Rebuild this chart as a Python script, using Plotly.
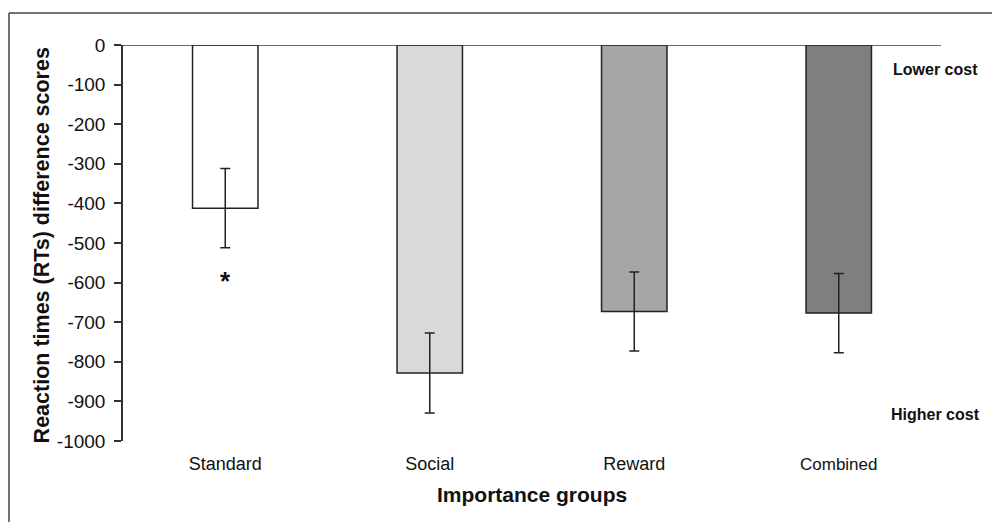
import plotly.graph_objects as go

categories = ["Standard", "Social", "Reward", "Combined"]
values = [-412, -828, -673, -677]
errors = [100, 101, 100, 100]
bar_colors = ["#ffffff", "#d9d9d9", "#a6a6a6", "#7f7f7f"]
tick_vals = list(range(-1000, 1, 100))
tick_text = [str(v) for v in tick_vals]
star_y = -591

ticktext_x = ["Standard", "Social", "Reward", "<span style='font-size:17px'>Combined</span>"]

fig = go.Figure()
fig.add_trace(go.Bar(
    x=categories, y=values,
    marker=dict(color=bar_colors, line=dict(color="#222222", width=1.5)),
    width=0.32,
    error_y=dict(type="data", array=errors, visible=True, color="#222222", thickness=1.5, width=5),
    showlegend=False,
))

font_family = "Liberation Sans, Arial, sans-serif"

fig.update_layout(
    width=992, height=522,
    margin=dict(l=123, r=51, t=45, b=81),
    paper_bgcolor="white", plot_bgcolor="white",
    font=dict(family=font_family, color="#111111"),
    xaxis=dict(
        tickmode="array", tickvals=categories, ticktext=ticktext_x,
        tickfont=dict(size=18, family=font_family, color="#111111"),
        showline=False, showgrid=False, zeroline=False, ticks="",
        ticklabelstandoff=10,
    ),
    yaxis=dict(
        range=[-1000, 0], tickmode="array", tickvals=tick_vals, ticktext=tick_text,
        tickfont=dict(size=19, family=font_family, color="#111111"),
        showline=True, linecolor="#333333", linewidth=1.5,
        ticks="outside", ticklen=7, tickcolor="#333333", tickwidth=1.5,
        showgrid=False, zeroline=False, ticklabelstandoff=5,
    ),
)

# zero baseline across the plot
fig.add_shape(type="line", xref="paper", yref="y", x0=0, x1=1, y0=0, y1=0,
              line=dict(color="#333333", width=1.5))
# outer frame (top and left)
fig.add_shape(type="line", xref="paper", yref="paper", x0=-0.1394, x1=1.1, y0=1.0808, y1=1.0808,
              line=dict(color="#444444", width=1.5))
fig.add_shape(type="line", xref="paper", yref="paper", x0=-0.1394, x1=-0.1394, y0=-0.3, y1=1.0808,
              line=dict(color="#444444", width=1.5))

fig.add_annotation(x="Standard", y=star_y, text="<b>*</b>", showarrow=False,
                   font=dict(size=26, family=font_family, color="#111111"), yanchor="middle", yshift=-2)
fig.add_annotation(xref="paper", yref="paper", x=0.9927, y=0.937, text="<b>Lower cost</b>", showarrow=False,
                   xanchor="center", yanchor="middle", font=dict(size=16, family=font_family, color="#111111"))
fig.add_annotation(xref="paper", yref="paper", x=0.9927, y=0.068, text="<b>Higher cost</b>", showarrow=False,
                   xanchor="center", yanchor="middle", font=dict(size=16, family=font_family, color="#111111"))
fig.add_annotation(xref="paper", yref="paper", x=-0.0990, y=0.494, text="<b>Reaction times (RTs) difference scores</b>",
                   showarrow=False, textangle=-90, xanchor="center", yanchor="middle",
                   font=dict(size=21.5, family=font_family, color="#111111"))
fig.add_annotation(xref="paper", yref="paper", x=0.5, y=-0.135, text="<b>Importance groups</b>",
                   showarrow=False, yanchor="middle", font=dict(size=21, family=font_family, color="#111111"))

fig.write_html("out.html", config={"displayModeBar": False},
               post_script="document.body.style.margin='0';document.body.style.overflow='hidden';")
